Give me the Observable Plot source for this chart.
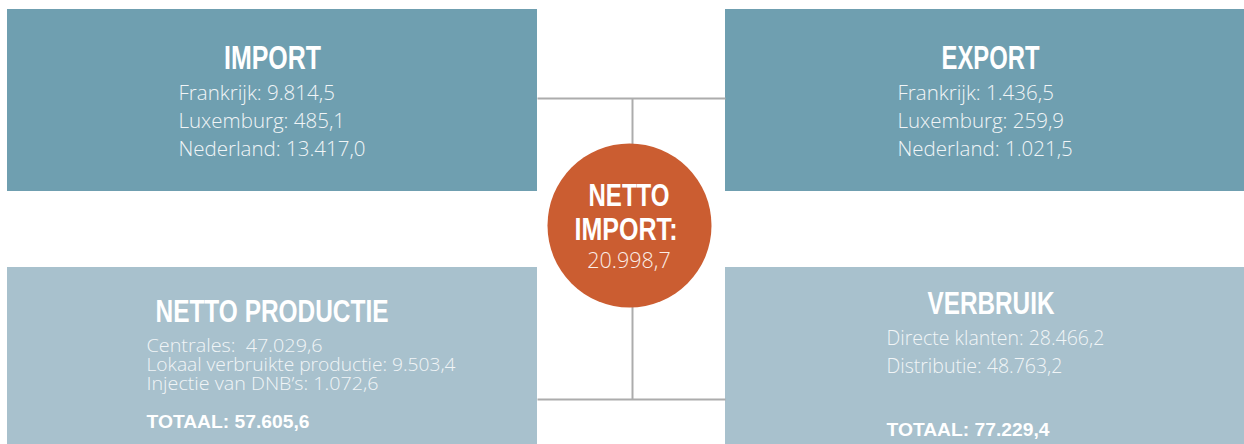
<!DOCTYPE html>
<html>
<head>
<meta charset="utf-8">
<script src="https://cdn.jsdelivr.net/npm/d3@7"></script>
<script src="https://cdn.jsdelivr.net/npm/@observablehq/plot@0.6"></script>
<style>
  html, body { margin: 0; padding: 0; background: #fff; }
  #chart svg { display: block; }
</style>
</head>
<body>
<div id="chart"></div>
<script>
// ---- data ----
const sectionTitles = ["IMPORT", "EXPORT", "NETTO PRODUCTIE", "VERBRUIK"];
const netTitle = ["NETTO", "IMPORT:"];
const countries = ["Frankrijk", "Luxemburg", "Nederland"];
const importValues = [9814.5, 485.1, 13417.0];
const exportValues = [1436.5, 259.9, 1021.5];
const productionLabels = ["Centrales", "Lokaal verbruikte productie", "Injectie van DNB’s"];
const productionValues = [47029.6, 9503.4, 1072.6];
const productionTotal = 57605.6;
const consumptionLabels = ["Directe klanten", "Distributie"];
const consumptionValues = [28466.2, 48763.2];
const consumptionTotal = 77229.4;
const netImport = 20998.7;
const totalLabel = "TOTAAL";

// ---- formatting (Dutch) ----
const nl = d3.formatLocale({decimal: ",", thousands: ".", grouping: [3], currency: ["€", ""]});
const fmt = nl.format(",.1f");

// ---- layout ----
const W = 1244, H = 444;
const colDark = "#6f9fb0", colLight = "#a8c1cd", colCircle = "#cb5d31", colLine = "#acacac";
const boxes = [
  {x1: 7, x2: 537, y1: 9, y2: 191, fill: colDark},
  {x1: 725, x2: 1244, y1: 9, y2: 191, fill: colDark},
  {x1: 7, x2: 537, y1: 267, y2: 444, fill: colLight},
  {x1: 725, x2: 1244, y1: 267, y2: 444, fill: colLight}
];
const connectors = [
  {x1: 537, y1: 98, x2: 725, y2: 98},
  {x1: 632, y1: 98, x2: 632, y2: 150},
  {x1: 632, y1: 300, x2: 632, y2: 399},
  {x1: 537, y1: 399, x2: 725, y2: 399}
];
const circle = {x: 629, y: 225, r: 82};

const titleFont = "'Liberation Sans', Arial, sans-serif";
const bodyFont = "'Open Sans', 'Liberation Sans', sans-serif";

const titles = [
  {t: sectionTitles[0], x: 272, y: 68, s: 33, w: 97},
  {t: sectionTitles[1], x: 990, y: 68, s: 33, w: 98},
  {t: sectionTitles[2], x: 271.5, y: 321, s: 30.5, w: 233},
  {t: sectionTitles[3], x: 990.5, y: 313, s: 31, w: 127},
  {t: netTitle[0], x: 628.5, y: 205, s: 30.5, w: 81},
  {t: netTitle[1], x: 625.5, y: 239, s: 30.5, w: 103}
];

const body = [];
countries.forEach((c, i) => {
  body.push({t: `${c}: ${fmt(importValues[i])}`, x: 178, y: 99 + i * 28, s: 20.5});
  body.push({t: `${c}: ${fmt(exportValues[i])}`, x: 897, y: 99 + i * 28, s: 20.5});
});
const productionWidths = [176, 309, 232];
productionLabels.forEach((c, i) => {
  body.push({t: `${c}:${i === 0 ? "  " : " "}${fmt(productionValues[i])}`, x: 146, y: 351.5 + i * 19, s: 18, w: productionWidths[i]});
});
consumptionLabels.forEach((c, i) => {
  body.push({t: `${c}: ${fmt(consumptionValues[i])}`, x: 886, y: 344 + i * 28, s: 19.5});
});

const totals = [
  {t: `${totalLabel}: ${fmt(productionTotal)}`, x: 146, y: 427, w: 163},
  {t: `${totalLabel}: ${fmt(consumptionTotal)}`, x: 886, y: 435, w: 163}
];

const plot = Plot.plot({
  width: W,
  height: H,
  margin: 0,
  x: {domain: [0, W], range: [0, W], axis: null},
  y: {domain: [0, H], range: [0, H], axis: null},
  style: {background: "#fff"},
  marks: [
    Plot.rect(boxes, {x1: "x1", x2: "x2", y1: "y1", y2: "y2", fill: d => d.fill}),
    Plot.link(connectors, {x1: "x1", y1: "y1", x2: "x2", y2: "y2", stroke: colLine, strokeWidth: 2}),
    Plot.dot([circle], {x: "x", y: "y", r: circle.r, fill: colCircle, stroke: "none"}),
    Plot.text(titles, {x: "x", y: "y", text: "t", fontSize: d => d.s, fill: "#fff", fontWeight: "bold",
      fontFamily: titleFont, textAnchor: "middle", lineAnchor: "bottom"}),
    Plot.text(body, {x: "x", y: "y", text: "t", fontSize: d => d.s, fill: "#f1f5f7", fontWeight: 300,
      fontFamily: bodyFont, textAnchor: "start", lineAnchor: "bottom"}),
    Plot.text([{t: fmt(netImport), x: 628.5, y: 267}], {x: "x", y: "y", text: "t", fontSize: 21.5, fill: "#fbeee8",
      fontWeight: 300, fontFamily: bodyFont, textAnchor: "middle", lineAnchor: "bottom"}),
    Plot.text(totals, {x: "x", y: "y", text: "t", fontSize: 17.5, fill: "#fff", fontWeight: "bold",
      fontFamily: "'Liberation Sans', Arial, sans-serif", textAnchor: "start", lineAnchor: "bottom"})
  ]
});
document.getElementById("chart").appendChild(plot);

// condensed look for the headings and exact widths: fit to the reference widths
const fitWidth = new Map([...titles, ...totals, ...body.filter(d => d.w)].map(d => [d.t, d.w]));
d3.select(plot).selectAll("text").each(function () {
  const w = fitWidth.get(this.textContent);
  if (w) {
    this.setAttribute("textLength", w);
    this.setAttribute("lengthAdjust", "spacingAndGlyphs");
  }
});
</script>
</body>
</html>
